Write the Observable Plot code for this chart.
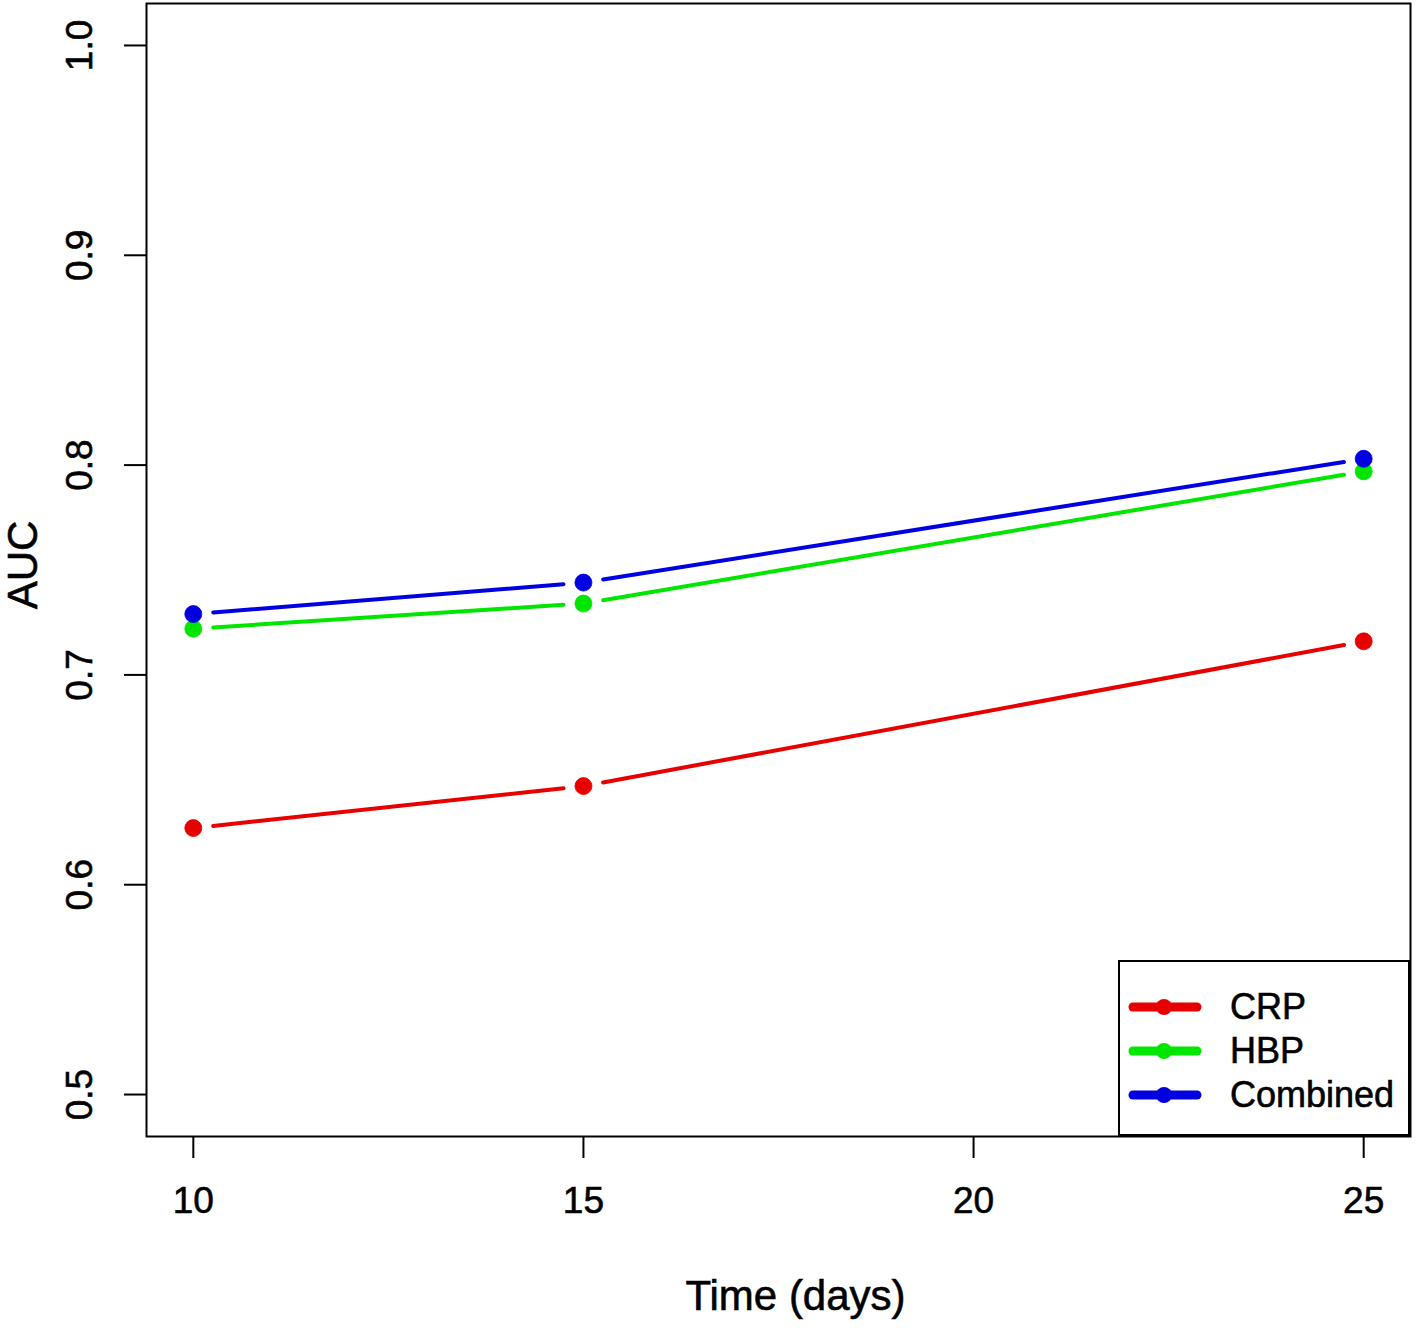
<!DOCTYPE html>
<html>
<head>
<meta charset="utf-8">
<script src="https://cdn.jsdelivr.net/npm/d3@7"></script>
<script src="https://cdn.jsdelivr.net/npm/@observablehq/plot@0.6"></script>
<style>
  html, body { margin: 0; padding: 0; background: #fff; }
  #wrap { position: relative; width: 1418px; height: 1330px; font-family: "Liberation Sans", Arial, sans-serif; }
  #wrap svg text { stroke: #000; stroke-width: 0.6px; }
  #legend { position: absolute; left: 1118px; top: 960px; width: 288px; height: 172px; border: 2px solid #000; background: #fff; box-sizing: content-box; }
  .row { position: absolute; left: 0; height: 44px; display: flex; align-items: center; }
  .row span { font-size: 36px; color: #000; line-height: 1; -webkit-text-stroke: 0.6px #000; }
</style>
</head>
<body>
<div id="wrap"></div>
<script>
const days = [10, 15, 25];
const crp = [0.627, 0.647, 0.716];
const hbp = [0.722, 0.734, 0.797];
const combined = [0.729, 0.744, 0.803];
const seriesNames = ["CRP", "HBP", "Combined"];
const seriesColors = ["#e60000", "#00e600", "#0000e0"];
const xTicks = [10, 15, 20, 25];
const yTicks = [0.5, 0.6, 0.7, 0.8, 0.9, 1.0];

const seriesValues = [crp, hbp, combined];
const points = [];
const segments = [];
seriesNames.forEach((name, i) => {
  const vals = seriesValues[i];
  days.forEach((d, j) => {
    points.push({series: name, x: d, y: vals[j]});
    if (j > 0) segments.push({series: name, x1: days[j - 1], y1: vals[j - 1], x2: d, y2: vals[j]});
  });
});

const font = "'Liberation Sans', Arial, sans-serif";

const chart = Plot.plot({
  width: 1418,
  height: 1330,
  marginLeft: 146,
  marginRight: 8,
  marginTop: 3,
  marginBottom: 194,
  style: {fontFamily: font, background: "#fff", color: "#000"},
  x: {domain: [9.4, 25.6], ticks: xTicks},
  y: {domain: [0.48, 1.02], ticks: yTicks},
  color: {domain: seriesNames, range: seriesColors},
  marks: [
    Plot.axisX({ticks: xTicks, tickSize: 22, tickPadding: 28, fontSize: 37, label: null, strokeWidth: 2}),
    Plot.axisY({ticks: yTicks, tickSize: 22, tickFormat: () => "", label: null, strokeWidth: 2}),
    Plot.text(yTicks, {y: d => d, text: d3.format(".1f"), frameAnchor: "left", dx: -66, rotate: -90, fontSize: 37, textAnchor: "middle", lineAnchor: "middle", fill: "#000"}),
    Plot.text(["Time (days)"], {frameAnchor: "bottom", dy: 160, dx: 17, text: d => d, fontSize: 42, lineAnchor: "middle", fill: "#000"}),
    Plot.text(["AUC"], {frameAnchor: "left", dx: -123, rotate: -90, text: d => d, fontSize: 42, lineAnchor: "middle", textAnchor: "middle", fill: "#000", dy: -5}),
    Plot.arrow(segments, {x1: "x1", y1: "y1", x2: "x2", y2: "y2", stroke: "series", strokeWidth: 4, headLength: 0, insetStart: 20, insetEnd: 20, strokeLinecap: "round"}),
    Plot.dot(points, {x: "x", y: "y", fill: "series", r: 8.5, stroke: "series", strokeWidth: 0.8}),
    Plot.frame({stroke: "#000", strokeWidth: 2})
  ]
});

const wrap = document.getElementById("wrap");
wrap.appendChild(chart);

const legend = document.createElement("div");
legend.id = "legend";
seriesNames.forEach((name, i) => {
  const row = document.createElement("div");
  row.className = "row";
  row.style.top = (23 + i * 44) + "px";
  const c = seriesColors[i];
  row.innerHTML = `<svg width="110" height="44"><line x1="13" x2="77" y1="22" y2="22" stroke="${c}" stroke-width="9" stroke-linecap="round"/><circle cx="44" cy="22" r="8" fill="${c}"/></svg><span>${name}</span>`;
  legend.appendChild(row);
});
wrap.appendChild(legend);
</script>
</body>
</html>
